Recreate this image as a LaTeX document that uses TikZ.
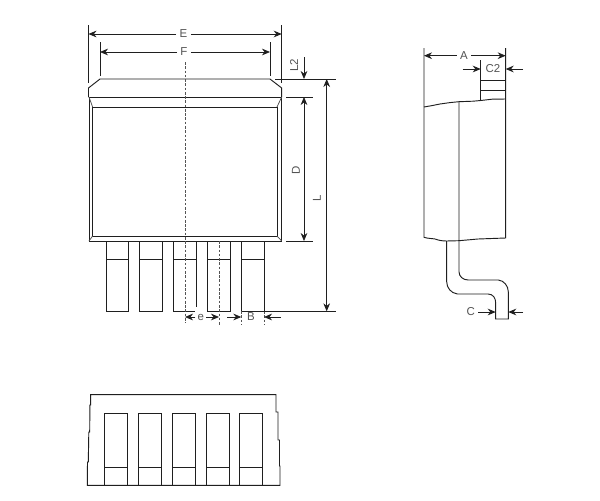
\documentclass[tikz,border=0pt]{standalone}
\usepackage{fontspec}
\setmainfont{Liberation Sans}
\usetikzlibrary{arrows.meta}
\definecolor{inkc}{gray}{0.12}
\definecolor{labc}{gray}{0.33}
\tikzset{
  outline/.style={draw=inkc,line width=0.7pt,line join=miter},
  thin line/.style={draw=inkc!80!white,line width=0.55pt},
  dim/.style={draw=inkc,line width=0.55pt,-{Stealth[length=6pt,width=5pt]}},
  dimboth/.style={draw=inkc,line width=0.55pt,{Stealth[length=6pt,width=5pt]}-{Stealth[length=6pt,width=5pt]}},
  ext/.style={draw=inkc,line width=0.55pt},
  centre/.style={draw=labc,line width=0.55pt,dash pattern=on 2pt off 1.2pt},
  lab/.style={text=labc,font=\fontsize{8.6}{10}\selectfont,inner sep=2.6pt,outer sep=0pt},
  lead/.style={draw=inkc,line width=0.6pt}
}
\begin{document}
\begin{tikzpicture}[x=0.75pt,y=-0.75pt]
\useasboundingbox[fill=white] (0,0) rectangle (600,500);

% --- front view: package body
\draw[outline] (88.5,97) -- (88.5,88) -- (100,79) -- (270,79) -- (281.7,88) -- (281.7,97);
\draw[outline] (88.5,97) -- (281.7,97);
\draw[outline] (89,97) -- (89,241) -- (281.7,241) -- (281.7,97);
\draw[outline] (92.6,107) -- (277,107) -- (277,236) -- (92.6,236) -- cycle;
\draw[thin line] (89,97) -- (92.6,107) (281.7,97) -- (277,107) (89,241) -- (92.6,236) (281.7,241) -- (277,236);

% --- front view: leads
\foreach \xa/\xb in {106/128.3,139.7/162.3,207.7/230.3,241.3/264}{
  \draw[lead] (\xa,241) -- (\xa,311.3) -- (\xb,311.3) -- (\xb,241);
  \draw[lead] (\xa,259) -- (\xb,259);
}
\draw[lead] (173.7,241) -- (173.7,311.3) -- (195,311.3);
\draw[lead] (196,241) -- (196,307);
\draw[lead] (173.7,259) -- (196,259);

% --- front view: centre lines
\draw[centre] (185,62) -- (185,323);
\draw[centre] (219,241) -- (219,325);
\draw[centre] (241.3,311) -- (241.3,325);
\draw[centre] (264,311) -- (264,325);

% --- front view: extension points
\coordinate (Eltop) at (88.5,25);  \coordinate (Elbot) at (88.5,83);
\coordinate (Ertop) at (281.7,25); \coordinate (Erbot) at (281.7,83);
\coordinate (Fltop) at (100,42);   \coordinate (Flbot) at (100,76);
\coordinate (Frtop) at (270,42);   \coordinate (Frbot) at (270,76);
\draw[ext] (Eltop) -- (Elbot);
\draw[ext] (Ertop) -- (Erbot);
\draw[ext] (Fltop) -- (Flbot);
\draw[ext] (Frtop) -- (Frbot);

% E and F
\node[lab] (E) at (183.5,34) {E};
\node[lab] (F) at (184,52) {F};
\coordinate (Eleft) at (88.5,34);  \coordinate (Eright) at (281.7,34);
\coordinate (Fleft) at (100,52);   \coordinate (Fright) at (270,52);
\draw[dim] (E) -- (Eleft);
\draw[dim] (E) -- (Eright);
\draw[dim] (F) -- (Fleft);
\draw[dim] (F) -- (Fright);

% horizontal extension lines at the right
\coordinate (TopA) at (275,79);  \coordinate (TopB) at (335.7,79);
\coordinate (DA) at (286,97);    \coordinate (DB) at (313,97);
\coordinate (DC) at (286,241);   \coordinate (DD) at (313,241);
\coordinate (BotA) at (264,311.3); \coordinate (BotB) at (335.7,311.3);
\draw[ext] (TopA) -- (TopB);
\draw[ext] (DA) -- (DB);
\draw[ext] (DC) -- (DD);
\draw[ext] (BotA) -- (BotB);

% L2, D, L
\node[lab,rotate=90] (L2) at (294,65) {L2};
\coordinate (L2tail) at (304,57);
\coordinate (L2tip) at (304,79);
\draw[dim] (L2tail) -- (L2tip);
\node[lab,rotate=90] (D) at (296,170) {D};
\coordinate (Dup) at (304,97);  \coordinate (Ddn) at (304,241);
\draw[dimboth] (Dup) -- (Ddn);
\node[lab,rotate=90] (L) at (317,198) {L};
\coordinate (Lup) at (326.7,79); \coordinate (Ldn) at (326.7,311.3);
\draw[dimboth] (Lup) -- (Ldn);

% e and B
\node[lab,inner sep=1.6pt] (e) at (200.7,317) {e};
\node[lab] (B) at (251,317) {B};
\coordinate (eleft) at (185,317);    \coordinate (eright) at (219,317);
\coordinate (Bltail) at (227.3,317); \coordinate (Bltip) at (241.3,317);
\coordinate (Brtail) at (280.7,317); \coordinate (Brtip) at (264,317);
\draw[dim] (e) -- (eleft);
\draw[dim] (e) -- (eright);
\draw[dim] (Bltail) -- (Bltip);
\draw[dim] (Brtail) -- (Brtip);

% --- side view
\draw[outline] (424,48) -- (424,237.3)
  .. controls (428,238.6) and (432,238.4) .. (435,239)
  .. controls (439,240.4) and (442,241) .. (446.7,241)
  -- (459,240.7) -- (478,239) -- (505.7,238) -- (505.7,48);
\draw[outline] (424,107) -- (432,105.6) -- (440,104) -- (450,102.6) -- (459,101.7)
  -- (473,101.2) -- (480.7,100.5) -- (492,99.2) -- (505.7,99);
\draw[outline] (459,101.7) -- (459,271.7)
  .. controls (459,276.5) and (463,280) .. (468.3,280)
  -- (498.3,280)
  .. controls (504,280.5) and (508.3,286) .. (508.3,291.7)
  -- (508.3,319) -- (495.7,319) -- (495.7,303)
  .. controls (495.7,298) and (493,294) .. (488,294)
  -- (457.3,294)
  .. controls (451,293) and (446.7,288) .. (446.7,281.7)
  -- (446.7,241);
% tab
\draw[outline] (480.7,60) -- (480.7,100.5);
\draw[outline] (480.7,80) -- (505.7,80);
\draw[outline] (480.7,90) -- (505.7,90);

% A, C2, C
\node[lab] (A) at (464,55.7) {A};
\coordinate (Aleft) at (424,55.7);     \coordinate (Aright) at (505.7,55.7);
\draw[dim] (A) -- (Aleft);
\draw[dim] (A) -- (Aright);
\node[lab,inner sep=0pt] (C2) at (493,69) {C2};
\coordinate (C2ltail) at (462.7,69);   \coordinate (C2ltip) at (480.7,69);
\coordinate (C2rtail) at (523,69);     \coordinate (C2rtip) at (505.7,69);
\draw[dim] (C2ltail) -- (C2ltip);
\draw[dim] (C2rtail) -- (C2rtip);
\node[lab] (C) at (470.7,312) {C};
\coordinate (Cltip) at (495.7,312);
\coordinate (Crtail) at (523,312);     \coordinate (Crtip) at (508.3,312);
\draw[dim] (C) -- (Cltip);
\draw[dim] (Crtail) -- (Crtip);

% --- bottom view
\draw[outline] (87.3,485.3) -- (87.5,462) -- (88.3,462) -- (88.8,432) -- (89.7,432)
  -- (89.9,405) -- (90.7,405) -- (90.7,394.7) -- (276,394.7) -- (276,412) -- (278,412)
  -- (278,440) -- (279.5,440) -- (279.5,466) -- (280,466) -- (280,485.3) -- cycle;
\foreach \xa/\xb in {104.7/127.3,138.7/161.3,172.3/195.3,206/229,239.7/262.7}{
  \draw[lead] (\xa,485.3) -- (\xa,413.7) -- (\xb,413.7) -- (\xb,485.3);
  \draw[lead] (\xa,467.7) -- (\xb,467.7);
}
\end{tikzpicture}
\end{document}
